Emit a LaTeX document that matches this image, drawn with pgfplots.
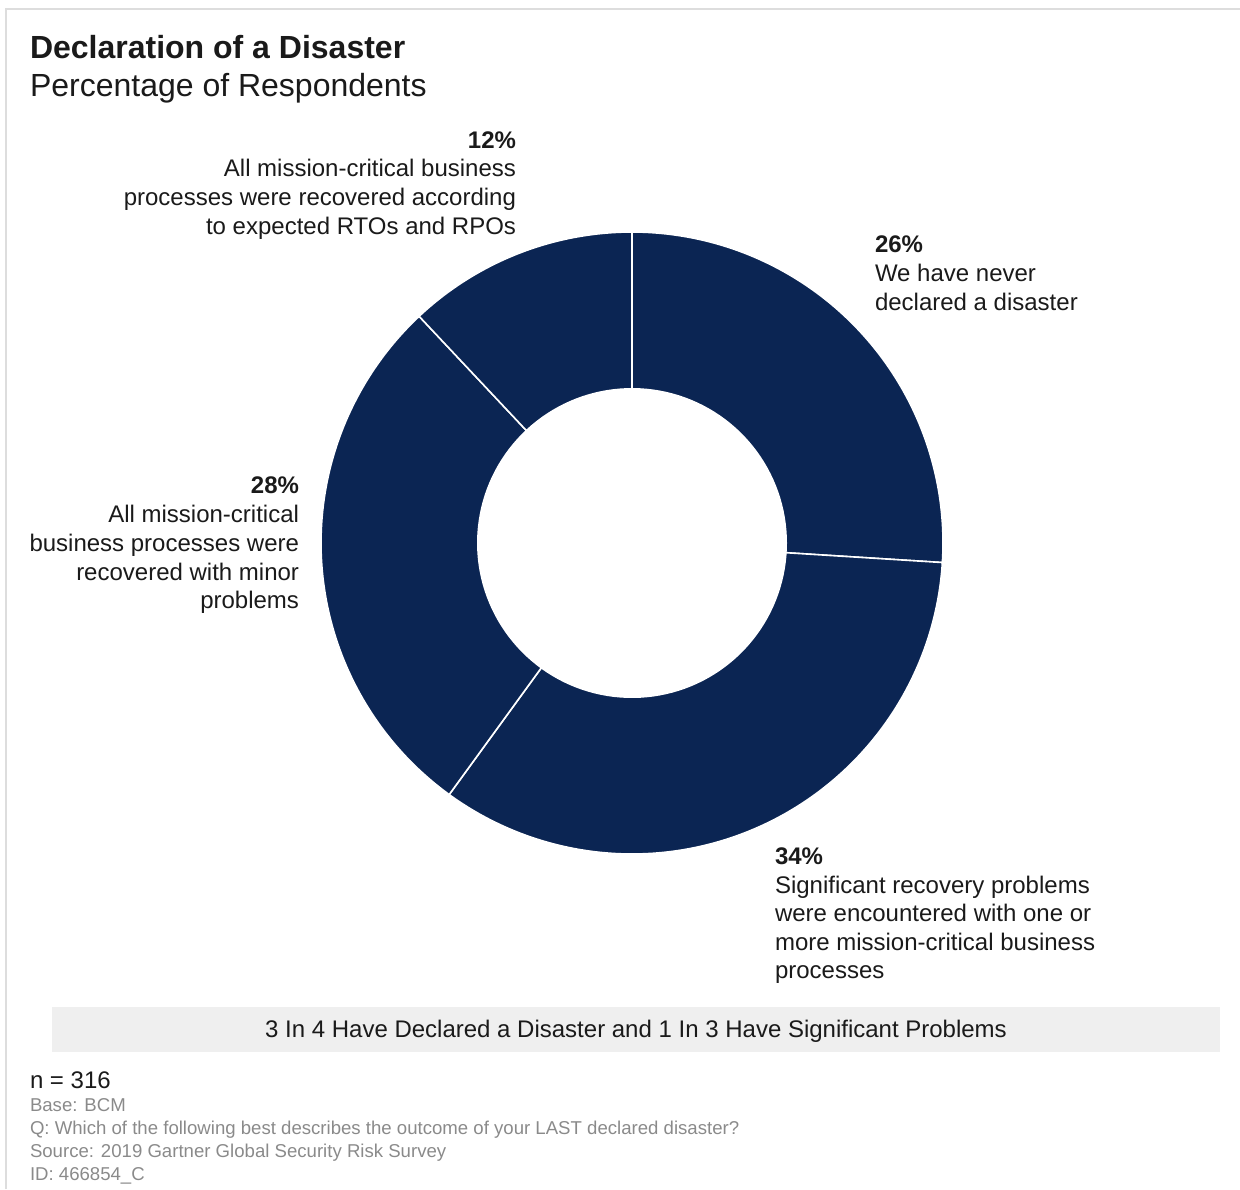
\documentclass[border=0pt]{standalone}
\usepackage{pgfplots}
\pgfplotsset{compat=1.18}
\usepackage{fontspec}
\setmainfont{Liberation Sans}
\definecolor{navy}{HTML}{0B2553}
\definecolor{txt}{HTML}{1A1A1A}
\definecolor{foot}{HTML}{8A8A8A}
\definecolor{band}{HTML}{EFEFEF}
\definecolor{frame}{HTML}{DDDDDD}
% shares (percent of respondents), clockwise from 12 o'clock
\def\vA{26}\def\vB{34}\def\vC{28}\def\vD{12}
\def\cx{632}\def\cy{543}\def\Ro{311}\def\Ri{155}
\pgfmathsetmacro\aA{90}
\pgfmathsetmacro\aB{\aA-3.6*\vA}
\pgfmathsetmacro\aC{\aB-3.6*\vB}
\pgfmathsetmacro\aD{\aC-3.6*\vC}
\pgfmathsetmacro\aE{\aD-3.6*\vD}
\newcommand\lbl{\fontsize{12}{14.5}\selectfont}
\tikzset{t/.style={inner sep=0pt, outer sep=0pt, text=txt}}
\begin{document}
\begin{tikzpicture}
\begin{axis}[
  width=620pt, height=594.5pt, scale only axis,
  xmin=0, xmax=1240, ymin=0, ymax=1189, y dir=reverse,
  hide axis, clip=false,
]
\coordinate (TL) at (axis cs:0,0);
\coordinate (BR) at (axis cs:1240,1189);
% frame and banner
\draw[frame, line width=1pt] (axis cs:6,1189) -- (axis cs:6,9) -- (axis cs:1240,9);
\fill[band] (axis cs:52,1007) rectangle (axis cs:1220,1052);
% donut segments
\addplot[fill=navy, draw=white, line width=0.8pt, domain=\aB:\aA, samples=90, variable=\t]
  ({\cx+\Ro*cos(\t)},{\cy-\Ro*sin(\t)}) -- (axis cs:\cx,\cy) -- cycle;
\addplot[fill=navy, draw=white, line width=0.8pt, domain=\aC:\aB, samples=90, variable=\t]
  ({\cx+\Ro*cos(\t)},{\cy-\Ro*sin(\t)}) -- (axis cs:\cx,\cy) -- cycle;
\addplot[fill=navy, draw=white, line width=0.8pt, domain=\aD:\aC, samples=90, variable=\t]
  ({\cx+\Ro*cos(\t)},{\cy-\Ro*sin(\t)}) -- (axis cs:\cx,\cy) -- cycle;
\addplot[fill=navy, draw=white, line width=0.8pt, domain=\aE:\aD, samples=90, variable=\t]
  ({\cx+\Ro*cos(\t)},{\cy-\Ro*sin(\t)}) -- (axis cs:\cx,\cy) -- cycle;
\addplot[fill=white, draw=none, domain=0:360, samples=150, variable=\t]
  ({\cx+\Ri*cos(\t)},{\cy-\Ri*sin(\t)}) -- cycle;
% titles
\node[t, anchor=base west, font=\fontsize{16}{19}\selectfont\bfseries] at (axis cs:30,58) {Declaration of a Disaster};
\node[t, anchor=base west, font=\fontsize{16}{19}\selectfont] at (axis cs:30,96) {Percentage of Respondents};
% label 12%
\node[t, anchor=base east, font=\lbl\bfseries] at (axis cs:516,148) {12\%};
\node[t, anchor=base east, font=\lbl] at (axis cs:516,176) {All mission-critical business};
\node[t, anchor=base east, font=\lbl] at (axis cs:516,205) {processes were recovered according};
\node[t, anchor=base east, font=\lbl] at (axis cs:516,234) {to expected RTOs and RPOs};
% label 26%
\node[t, anchor=base west, font=\lbl\bfseries] at (axis cs:875,252) {26\%};
\node[t, anchor=base west, font=\lbl] at (axis cs:875,281) {We have never};
\node[t, anchor=base west, font=\lbl] at (axis cs:875,310) {declared a disaster};
% label 28%
\node[t, anchor=base east, font=\lbl\bfseries] at (axis cs:299,493) {28\%};
\node[t, anchor=base east, font=\lbl] at (axis cs:299,522) {All mission-critical};
\node[t, anchor=base east, font=\lbl] at (axis cs:299,551) {business processes were};
\node[t, anchor=base east, font=\lbl] at (axis cs:299,580) {recovered with minor};
\node[t, anchor=base east, font=\lbl] at (axis cs:299,608) {problems};
% label 34%
\node[t, anchor=base west, font=\lbl\bfseries] at (axis cs:775,864) {34\%};
\node[t, anchor=base west, font=\lbl] at (axis cs:775,893) {Significant recovery problems};
\node[t, anchor=base west, font=\lbl] at (axis cs:775,921) {were encountered with one or};
\node[t, anchor=base west, font=\lbl] at (axis cs:775,950) {more mission-critical business};
\node[t, anchor=base west, font=\lbl] at (axis cs:775,978) {processes};
% banner text
\node[t, anchor=base, font=\lbl] at (axis cs:636,1037) {3 In 4 Have Declared a Disaster and 1 In 3 Have Significant Problems};
% footer
\node[t, anchor=base west, font=\lbl] at (axis cs:30,1088) {n = 316};
\node[t, anchor=base west, font=\fontsize{9.3}{11}\selectfont, text=foot] at (axis cs:30,1111) {Base: BCM};
\node[t, anchor=base west, font=\fontsize{9.3}{11}\selectfont, text=foot] at (axis cs:30,1134) {Q: Which of the following best describes the outcome of your LAST declared disaster?};
\node[t, anchor=base west, font=\fontsize{9.3}{11}\selectfont, text=foot] at (axis cs:30,1157) {Source: 2019 Gartner Global Security Risk Survey};
\node[t, anchor=base west, font=\fontsize{9.3}{11}\selectfont, text=foot] at (axis cs:30,1180) {ID: 466854\_C};
\end{axis}
\pgfresetboundingbox
\path[use as bounding box] (TL) rectangle (BR);
\end{tikzpicture}
\end{document}
